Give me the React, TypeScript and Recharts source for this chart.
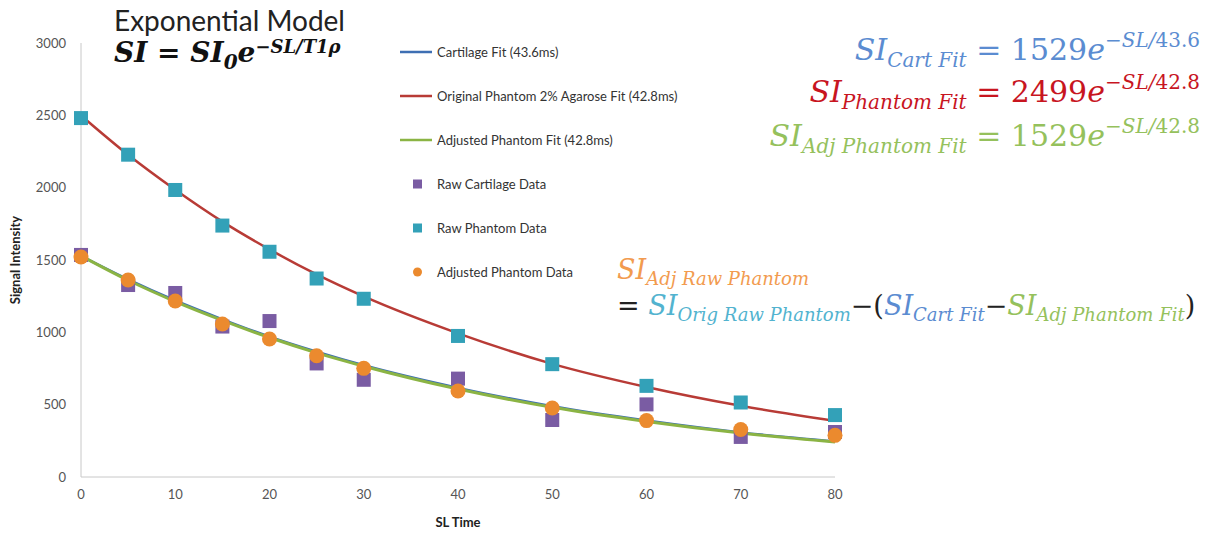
import React from "react"
import { ComposedChart, Line, Scatter, XAxis, YAxis } from "recharts"

const slTimes = [0, 5, 10, 15, 20, 25, 30, 40, 50, 60, 70, 80]
const rawCartilage = [1535, 1327, 1272, 1040, 1078, 785, 672, 680, 394, 502, 277, 311]
const rawPhantom = [2481, 2228, 1984, 1738, 1557, 1372, 1232, 975, 780, 630, 515, 428]
const adjustedPhantom = [1521, 1362, 1217, 1058, 954, 838, 751, 594, 477, 390, 328, 288]
const cartilageFit = [1529, 1366, 1220, 1090, 970, 866, 772, 616, 489, 390, 308, 246]
const phantomFit = [2499, 2227, 1985, 1765, 1573, 1400, 1248, 993, 782, 622, 492, 388]
const adjustedFit = [1529, 1360, 1213, 1083, 964, 858, 766, 608, 482, 384, 304, 242]

const seriesNames = [
  "Cartilage Fit (43.6ms)",
  "Original Phantom 2% Agarose Fit (42.8ms)",
  "Adjusted Phantom Fit (42.8ms)",
  "Raw Cartilage Data",
  "Raw Phantom Data",
  "Adjusted Phantom Data",
]
const legendKinds = ["line", "line", "line", "square", "square", "circle"]
const xTicks = [0, 10, 20, 30, 40, 50, 60, 70, 80]
const yTicks = [0, 500, 1000, 1500, 2000, 2500, 3000]

const data = slTimes.map((sl, i) => ({
  sl,
  rawCartilage: rawCartilage[i],
  rawPhantom: rawPhantom[i],
  adjustedPhantom: adjustedPhantom[i],
  cartilageFit: cartilageFit[i],
  phantomFit: phantomFit[i],
  adjustedFit: adjustedFit[i],
}))

const BLUE = "#3e6fb3"
const RED = "#b83b36"
const GREEN = "#8bb444"
const PURPLE = "#7a5ca3"
const CYAN = "#33a1b8"
const ORANGE = "#eb8a2e"
const seriesColors = [BLUE, RED, GREEN, PURPLE, CYAN, ORANGE]

const EQ_BLUE = "#5b8cd1"
const EQ_RED = "#c8151f"
const EQ_GREEN = "#95c15c"
const EQ_ORANGE = "#f29b4f"
const EQ_CYAN = "#52b3cf"

const tickFont = { fontFamily: "Lato, sans-serif", fontSize: 13, fill: "#555" }

const squareShape = (color: string) => (props: any) =>
  <rect x={props.cx - 7} y={props.cy - 7} width={14} height={14} fill={color} />

const circleShape = (color: string) => (props: any) =>
  <circle cx={props.cx} cy={props.cy} r={7.5} fill={color} />

// legend drawn by hand so it doesn't eat into the plot area
const LegendBox = () => (
  <div style={{ position: "absolute", left: 400, top: 30, fontFamily: "Lato, sans-serif", fontSize: 13, color: "#333" }}>
    {seriesNames.map((name, idx) => {
      const color = seriesColors[idx]
      const kind = legendKinds[idx]
      return (
        <div key={idx} style={{ height: 44, display: "flex", alignItems: "center" }}>
          <svg width={37} height={12} style={{ flex: "none" }}>
            {kind === "line" && <line x1={0} y1={6} x2={32} y2={6} stroke={color} strokeWidth={2.5} />}
            {kind === "square" && <rect x={13} y={1.5} width={9} height={9} fill={color} />}
            {kind === "circle" && <circle cx={17.5} cy={6} r={4.5} fill={color} />}
          </svg>
          <span style={{ whiteSpace: "nowrap" }}>{name}</span>
        </div>
      )
    })}
  </div>
)

const eq: React.CSSProperties = { fontFamily: "'DejaVu Serif', serif", fontStyle: "italic", whiteSpace: "nowrap", position: "absolute" }
const up: React.CSSProperties = { fontStyle: "normal" }
const sub = (t: string, size = 20) => <sub style={{ fontSize: size, verticalAlign: "-0.35em" }}>{t}</sub>
const sup = (t: React.ReactNode, size = 20, lift = "0.65em") => <sup style={{ fontSize: size, verticalAlign: lift }}>{t}</sup>

export default function App() {
  return (
    <div style={{ position: "absolute", left: 0, top: 0, width: 1231, height: 535, background: "#fff" }}>
      <ComposedChart width={1231} height={535} data={data} margin={{ top: 43, right: 396, left: 0, bottom: 0 }}>
        <XAxis
          dataKey="sl"
          type="number"
          domain={[0, 80]}
          ticks={xTicks}
          tickSize={0}
          tickMargin={13}
          tick={tickFont}
          stroke="#c8c8c8"
          height={58}
          label={{ value: "SL Time", position: "insideBottom", offset: 8, style: { fontFamily: "Lato, sans-serif", fontSize: 13, fontWeight: 700, fill: "#222" } }}
        />
        <YAxis
          type="number"
          domain={[0, 3000]}
          ticks={yTicks}
          tickSize={0}
          tickMargin={15}
          tick={tickFont}
          stroke="#c8c8c8"
          width={81}
          label={{ value: "Signal Intensity", angle: -90, position: "insideLeft", dx: 10, style: { textAnchor: "middle", fontFamily: "Lato, sans-serif", fontSize: 13, fontWeight: 700, fill: "#222" } }}
        />
        <Line dataKey="cartilageFit" name={seriesNames[0]} type="monotone" stroke={BLUE} strokeWidth={2.5} dot={false} isAnimationActive={false} />
        <Line dataKey="phantomFit" name={seriesNames[1]} type="monotone" stroke={RED} strokeWidth={2.5} dot={false} isAnimationActive={false} />
        <Line dataKey="adjustedFit" name={seriesNames[2]} type="monotone" stroke={GREEN} strokeWidth={3} dot={false} isAnimationActive={false} />
        <Scatter dataKey="rawCartilage" name={seriesNames[3]} fill={PURPLE} shape={squareShape(PURPLE)} isAnimationActive={false} />
        <Scatter dataKey="rawPhantom" name={seriesNames[4]} fill={CYAN} shape={squareShape(CYAN)} isAnimationActive={false} />
        <Scatter dataKey="adjustedPhantom" name={seriesNames[5]} fill={ORANGE} shape={circleShape(ORANGE)} isAnimationActive={false} />
      </ComposedChart>

      <LegendBox />

      <div style={{ position: "absolute", left: 114, top: 6, lineHeight: 1, fontFamily: "Lato, sans-serif", fontSize: 28, color: "#222" }}>
        Exponential Model
      </div>
      <div style={{ ...eq, left: 114, top: 38, lineHeight: 1, fontSize: 28, fontWeight: 700, color: "#111" }}>
        SI <span style={up}>=</span> SI{sub("0", 20)}e{sup("−SL/T1ρ", 18, "0.5em")}
      </div>

      <div style={{ ...eq, right: 31, top: 28, fontSize: 30, color: EQ_BLUE }}>
        SI{sub("Cart Fit")} <span style={up}>= 1529</span>e{sup(<>−SL/<span style={up}>43.6</span></>)}
      </div>
      <div style={{ ...eq, right: 31, top: 70, fontSize: 30, color: EQ_RED }}>
        SI{sub("Phantom Fit")} <span style={up}>= 2499</span>e{sup(<>−SL/<span style={up}>42.8</span></>)}
      </div>
      <div style={{ ...eq, right: 31, top: 114, fontSize: 30, color: EQ_GREEN }}>
        SI{sub("Adj Phantom Fit")} <span style={up}>= 1529</span>e{sup(<>−SL/<span style={up}>42.8</span></>)}
      </div>

      <div style={{ ...eq, left: 617, top: 254, fontSize: 27, color: EQ_ORANGE }}>
        SI{sub("Adj Raw Phantom", 18)}
      </div>
      <div style={{ ...eq, left: 617, top: 290, fontSize: 27, color: "#222" }}>
        <span style={up}>= </span>
        <span style={{ color: EQ_CYAN }}>SI{sub("Orig Raw Phantom", 18)}</span>
        <span style={up}>−(</span>
        <span style={{ color: EQ_BLUE }}>SI{sub("Cart Fit", 18)}</span>
        <span style={up}>−</span>
        <span style={{ color: EQ_GREEN }}>SI{sub("Adj Phantom Fit", 18)}</span>
        <span style={up}>)</span>
      </div>
    </div>
  )
}
